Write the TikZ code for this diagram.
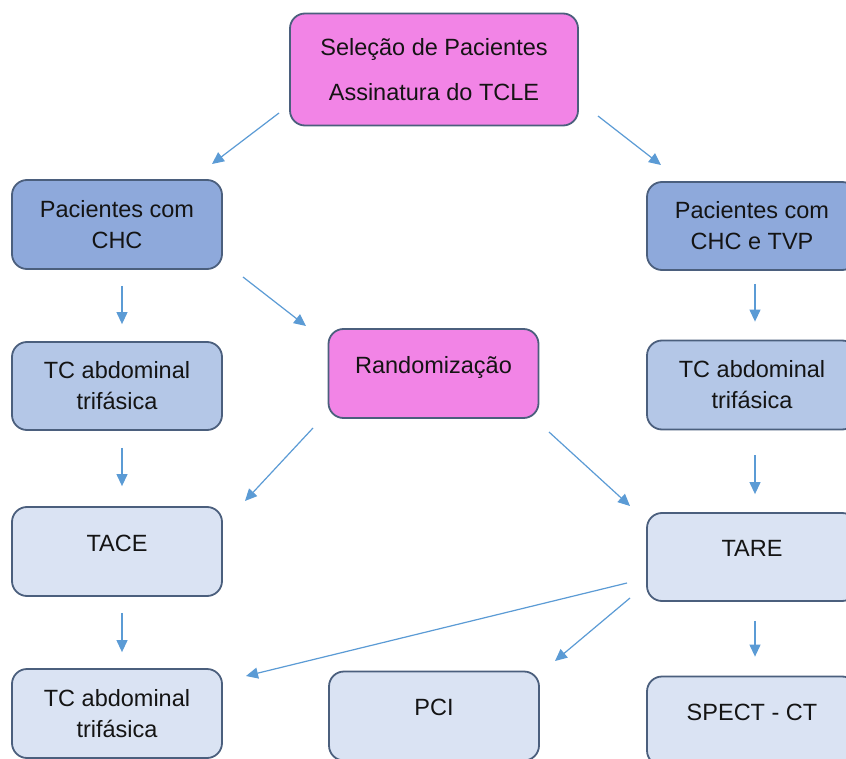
\documentclass[tikz,border=0pt]{standalone}
\usepackage{fontspec}
\setmainfont{Liberation Sans}
\usetikzlibrary{arrows.meta}
\definecolor{pinkfill}{RGB}{242,132,230}
\definecolor{darkfill}{RGB}{142,169,219}
\definecolor{midfill}{RGB}{180,199,231}
\definecolor{lightfill}{RGB}{218,227,243}
\definecolor{boxborder}{RGB}{75,95,125}
\definecolor{arrowcol}{RGB}{91,155,213}
\definecolor{txt}{RGB}{20,20,20}
\tikzset{
  box/.style={draw=boxborder, line width=1.8pt, rounded corners=15pt,
    minimum width=210pt, minimum height=89pt, align=center, inner sep=0pt,
    font=\fontsize{23.5}{31}\selectfont, text=txt},
  oneline/.style={text height=17pt, text depth=18pt},
  conn/.style={draw=arrowcol, line width=1.2pt, -{Triangle[length=12pt,width=11pt]}}
}
\begin{document}
\begin{tikzpicture}[x=1pt,y=-1pt]
\useasboundingbox (0,0) rectangle (846,759);
\clip (0,0) rectangle (846,759);
\fill[white] (0,0) rectangle (846,759);
\node[box, fill=pinkfill, minimum width=288pt, minimum height=112pt] (top) at (434,69.5)
  {Seleção de Pacientes\\[14pt]Assinatura do TCLE};
\node[box, fill=darkfill] (l1) at (117,224.5) {Pacientes com\\CHC};
\node[box, fill=midfill, minimum height=88pt] (l2) at (117,386) {TC abdominal\\trifásica};
\node[box, fill=lightfill, oneline] (l3) at (117,551.5) {TACE};
\node[box, fill=lightfill] (l4) at (117,713.5) {TC abdominal\\trifásica};
\node[box, fill=darkfill, minimum height=88pt] (r1) at (752,226) {Pacientes com\\CHC e TVP};
\node[box, fill=midfill] (r2) at (752,385) {TC abdominal\\trifásica};
\node[box, fill=lightfill, oneline, minimum height=88pt] (r3) at (752,557) {TARE};
\node[box, fill=lightfill, oneline] (r4) at (752,721) {SPECT - CT};
\node[box, fill=pinkfill, oneline] (rand) at (433.5,373.5) {Randomização};
\node[box, fill=lightfill, oneline] (pci) at (434,716) {PCI};

\coordinate (a1s) at (279,113); \coordinate (a1e) at (212,164);
\draw[conn] (a1s) -- (a1e);
\coordinate (a2s) at (598,116); \coordinate (a2e) at (661,165);
\draw[conn] (a2s) -- (a2e);
\coordinate (a3s) at (243,277); \coordinate (a3e) at (306,326);
\draw[conn] (a3s) -- (a3e);
\draw[conn] ([xshift=5pt,yshift=-16pt]l1.south) -- ([xshift=5pt,yshift=17pt]l2.north);
\draw[conn] ([xshift=5pt,yshift=-17pt]l2.south) -- ([xshift=5pt,yshift=20pt]l3.north);
\draw[conn] ([xshift=5pt,yshift=-16pt]l3.south) -- ([xshift=5pt,yshift=16pt]l4.north);
\draw[conn] ([xshift=3pt,yshift=-13pt]r1.south) -- ([xshift=3pt,yshift=18pt]r2.north);
\draw[conn] ([xshift=3pt,yshift=-25pt]r2.south) -- ([xshift=3pt,yshift=18pt]r3.north);
\draw[conn] ([xshift=3pt,yshift=-19pt]r3.south) -- ([xshift=3pt,yshift=19pt]r4.north);
\coordinate (a4s) at (313,428); \coordinate (a4e) at (245,501);
\draw[conn] (a4s) -- (a4e);
\coordinate (a5s) at (549,432); \coordinate (a5e) at (630,506);
\draw[conn] (a5s) -- (a5e);
\coordinate (a6s) at (627,583); \coordinate (a6e) at (246,676);
\draw[conn] (a6s) -- (a6e);
\coordinate (a7s) at (630,598); \coordinate (a7e) at (555,661);
\draw[conn] (a7s) -- (a7e);
\end{tikzpicture}
\end{document}
